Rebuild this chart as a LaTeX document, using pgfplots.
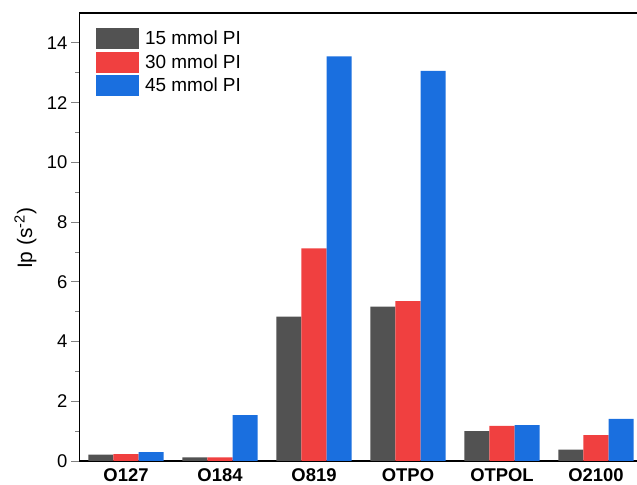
\documentclass[border=0pt]{standalone}
\usepackage{pgfplots}
\pgfplotsset{compat=1.18}
\usepackage{fontspec}
\setmainfont{Liberation Sans}
\definecolor{cgray}{RGB}{82,82,82}
\definecolor{cred}{RGB}{240,64,64}
\definecolor{cblue}{RGB}{26,111,223}
\begin{document}
\begin{tikzpicture}
\useasboundingbox (0,0) rectangle (637bp,485bp);
\begin{axis}[
  at={(79bp,24bp)}, anchor=south west,
  scale only axis, width=564bp, height=448bp,
  ybar, bar width=0.266, 
  xmin=-0.5, xmax=5.5, ymin=0, ymax=15,
  axis x line*=box, axis y line*=left,
  x axis line style={line width=1.6pt},
  y axis line style={line width=0.9pt},
  xtick=data, xticklabels={O127,O184,O819,OTPO,OTPOL,O2100},
  x tick label style={font=\fontsize{18.5}{22}\selectfont\bfseries, yshift=3.5bp},
  xtick style={draw=none},
  ytick={0,2,...,14}, minor ytick={1,3,...,13},
  tick align=outside,
  ytick style={line width=0.8pt},
  major tick length=8bp, minor tick length=4bp,
  y tick label style={font=\fontsize{18.5}{22}\selectfont},
  /pgf/number format/assume math mode=true,
  ylabel={Ip (s\textsuperscript{-2})},
  ylabel style={font=\fontsize{21}{24}\selectfont, at={(axis description cs:-0.095,0.497)}, anchor=center, rotate=0},
  legend style={draw=none, fill=none, at={(axis description cs:0.0301,0.9665)}, anchor=north west,
    font=\fontsize{19}{22}\selectfont, row sep=2.5bp, inner sep=0pt, nodes={inner xsep=6bp}},
  legend cell align=left,
  legend image code/.code={\fill[#1] (0bp,-10.5bp) rectangle (43bp,10.5bp);},
]
\addplot[fill=cgray, draw=none, bar shift=-0.266] coordinates {(0,0.21) (1,0.12) (2,4.83) (3,5.17) (4,1.00) (5,0.38)};
\addplot[fill=cred, draw=none, bar shift=0] coordinates {(0,0.23) (1,0.12) (2,7.12) (3,5.35) (4,1.18) (5,0.87)};
\addplot[fill=cblue, draw=none, bar shift=0.266] coordinates {(0,0.30) (1,1.54) (2,13.55) (3,13.06) (4,1.20) (5,1.41)};
\legend{15 mmol PI, 30 mmol PI, 45 mmol PI}
\end{axis}
\end{tikzpicture}
\end{document}
